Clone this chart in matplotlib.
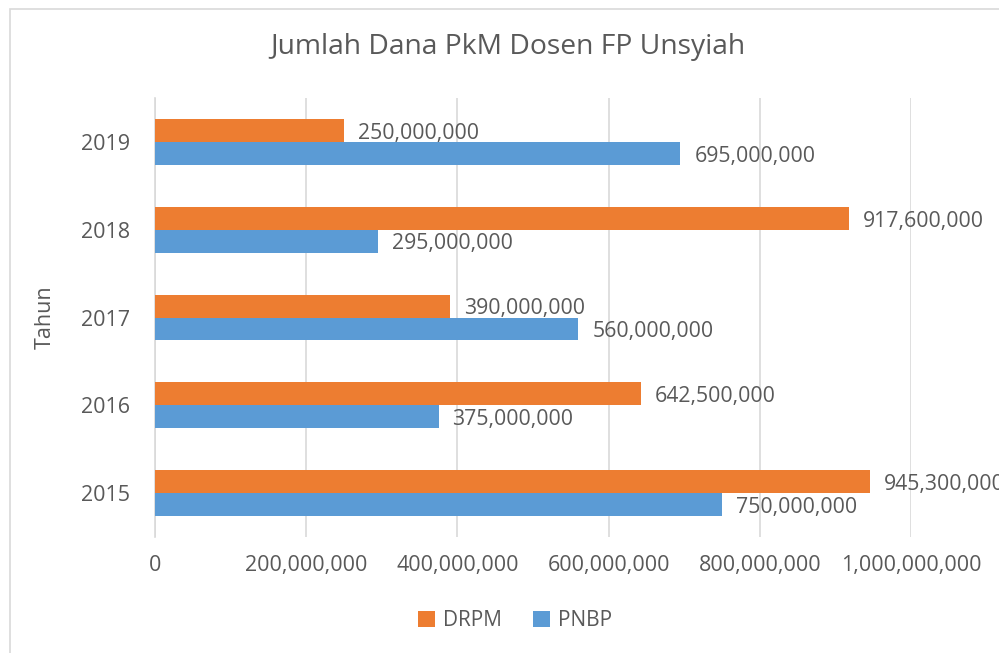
import numpy as np
import matplotlib.pyplot as plt
from matplotlib.patches import Rectangle

plt.rcParams['font.family'] = ['Open Sans', 'DejaVu Sans']

years = ['2015', '2016', '2017', '2018', '2019']
drpm = [945300000, 642500000, 390000000, 917600000, 250000000]
pnbp = [750000000, 375000000, 560000000, 295000000, 695000000]
xticks = [0, 200000000, 400000000, 600000000, 800000000, 1000000000]

orange = '#ED7D31'
blue = '#5B9BD5'
txt = '#595959'
grid = '#D9D9D9'

fig = plt.figure(figsize=(9.99, 6.53), dpi=100)
ax = fig.add_axes([155/999, (653-537)/653, (911-155)/999, (537-98)/653])

# chart border
fig.patches.append(Rectangle((10/999, -0.01), 1.0, 1.0 - 9/653 + 0.01, transform=fig.transFigure,
                             fill=False, edgecolor=grid, linewidth=1.2))

y = np.arange(len(years))
h = 0.26
b1 = ax.barh(y + h/2, drpm, height=h, color=orange, label='DRPM', zorder=3)
b2 = ax.barh(y - h/2, pnbp, height=h, color=blue, label='PNBP', zorder=3)

# the 945,300,000 label runs off the right edge in the original chart too
for bars, vals in ((b1, drpm), (b2, pnbp)):
    for rect, v in zip(bars, vals):
        ax.annotate(f'{v:,}', (v, rect.get_y() + rect.get_height()/2),
                    xytext=(10, -2), textcoords='offset points',
                    va='center', ha='left', fontsize=15.3, color=txt, annotation_clip=False)

ax.set_xlim(0, 1000000000)
ax.set_ylim(-0.5, len(years) - 0.5)
ax.set_xticks(xticks)
ax.set_xticklabels(['0'] + [f'{v:,}' for v in xticks[1:]])
ax.set_yticks(y)
ax.set_yticklabels(years)
ax.tick_params(axis='both', length=0, labelsize=15.5, colors=txt)
ax.tick_params(axis='x', pad=13)
ax.tick_params(axis='y', pad=18)
ax.xaxis.grid(True, color=grid, linewidth=1.2, zorder=0)
ax.set_axisbelow(True)
for s in ['top', 'right', 'bottom']:
    ax.spines[s].set_visible(False)
ax.spines['left'].set_color(grid)
ax.spines['left'].set_linewidth(1.2)

ax.set_ylabel('Tahun', fontsize=15.5, color=txt, labelpad=18)
fig.text(0.5085, 1 - 47/653, 'Jumlah Dana PkM Dosen FP Unsyiah', ha='center', va='center',
         fontsize=20.3, color=txt)

fig.legend(handles=[b1, b2], loc='center', bbox_to_anchor=(515/999, 1 - 621/653), ncol=2,
           frameon=False, fontsize=15, labelcolor=txt, handlelength=0.8, handleheight=0.8,
           handletextpad=0.4, columnspacing=1.5)

fig.savefig('out.png', dpi=100)
